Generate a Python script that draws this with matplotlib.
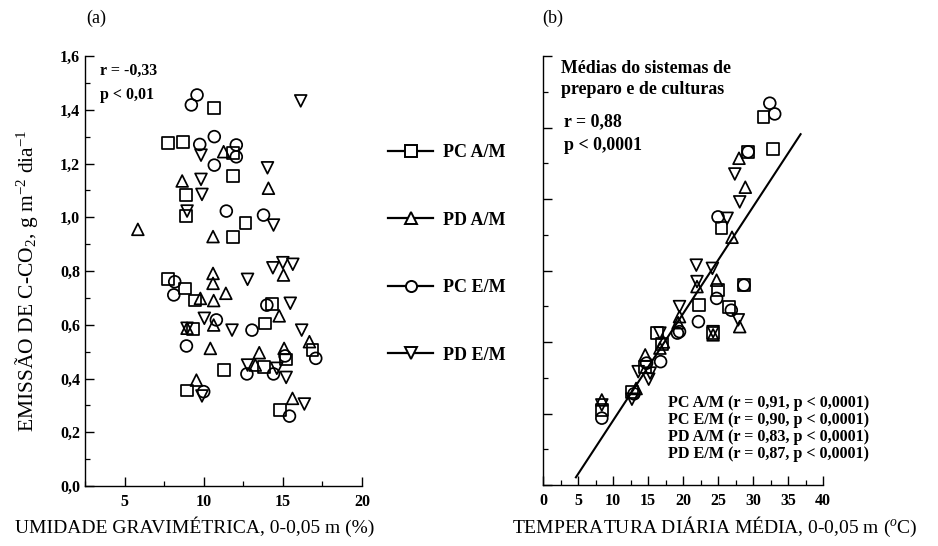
"""
Recreates the two-panel CO2 emission scatter figure:
(a) emission vs soil moisture, (b) mean emission vs soil temperature.
"""

import matplotlib

matplotlib.use("Agg")
import matplotlib.pyplot as plt  # noqa: E402
from matplotlib.lines import Line2D  # noqa: E402
from matplotlib.ticker import MultipleLocator  # noqa: E402

plt.rcParams["font.family"] = ["Liberation Serif", "DejaVu Serif"]
plt.rcParams["mathtext.fontset"] = "custom"
plt.rcParams["mathtext.rm"] = "Liberation Serif"
plt.rcParams["mathtext.it"] = "Liberation Serif:italic"
plt.rcParams["mathtext.bf"] = "Liberation Serif:bold"

SERIES = ["PC A/M", "PD A/M", "PC E/M", "PD E/M"]
MARKERS = {"PC A/M": "s", "PD A/M": "^", "PC E/M": "o", "PD E/M": "v"}

# ---- panel (a): moisture (%) vs emission ----
moist_pc_am = [10.63, 7.75, 8.70, 11.85, 11.85, 8.89, 8.89, 12.64, 11.85, 7.75, 8.84,
               9.43, 14.34, 9.31, 13.88, 15.21, 16.87, 13.82, 11.26, 8.95, 14.83]
emis_pc_am = [1.408, 1.275, 1.279, 1.238, 1.153, 1.083, 1.005, 0.980, 0.928, 0.769, 0.735,
              0.690, 0.677, 0.583, 0.605, 0.471, 0.506, 0.442, 0.432, 0.355, 0.283]

moist_pd_am = [5.84, 11.26, 8.64, 14.09, 10.59, 15.04, 10.59, 10.59, 9.79, 10.63, 11.40,
               10.63, 8.95, 14.77, 10.42, 13.51, 15.08, 16.68, 13.26, 9.54, 15.61]
emis_pd_am = [0.955, 1.244, 1.135, 1.108, 0.928, 0.785, 0.791, 0.754, 0.698, 0.690, 0.717,
              0.599, 0.587, 0.633, 0.512, 0.496, 0.512, 0.537, 0.450, 0.394, 0.326]

moist_pc_em = [9.22, 9.58, 9.75, 10.67, 12.06, 12.06, 10.67, 11.43, 13.78, 8.17, 8.11,
               13.99, 10.80, 13.05, 8.91, 15.14, 17.08, 12.73, 14.41, 10.00, 15.42]
emis_pc_em = [1.418, 1.455, 1.271, 1.300, 1.269, 1.225, 1.194, 1.023, 1.008, 0.760, 0.711,
              0.673, 0.618, 0.580, 0.521, 0.484, 0.475, 0.417, 0.417, 0.351, 0.260]

moist_pd_em = [16.13, 9.83, 14.03, 9.83, 9.89, 8.95, 14.41, 14.37, 15.00, 15.63, 12.77,
               15.47, 10.04, 11.79, 8.95, 16.19, 12.77, 14.62, 15.21, 9.89, 16.36]
emis_pd_em = [1.433, 1.231, 1.184, 1.141, 1.085, 1.023, 0.971, 0.812, 0.831, 0.825, 0.769,
              0.680, 0.624, 0.580, 0.587, 0.580, 0.450, 0.438, 0.404, 0.335, 0.305]

# ---- panel (b): temperature (oC) vs mean emission ----
temp_pc_am = [8.4, 12.7, 14.6, 16.3, 17.0, 22.3, 24.3, 25.0, 25.5, 26.6, 28.7, 29.3, 31.5, 32.9]
mean_pc_am = [0.210, 0.261, 0.330, 0.425, 0.395, 0.504, 0.425, 0.545, 0.718, 0.497, 0.559,
              0.932, 1.030, 0.940]

temp_pd_am = [8.4, 13.3, 14.6, 16.7, 17.2, 19.3, 19.5, 22.0, 24.3, 24.8, 27.0, 28.0, 28.1, 28.9]
mean_pd_am = [0.238, 0.270, 0.364, 0.383, 0.400, 0.454, 0.471, 0.555, 0.420, 0.573, 0.693,
              0.914, 0.443, 0.833]

temp_pc_em = [8.4, 13.0, 14.8, 16.8, 19.2, 19.5, 22.2, 24.8, 25.0, 26.9, 28.7, 29.3, 32.4, 33.1]
mean_pc_em = [0.187, 0.255, 0.341, 0.345, 0.425, 0.429, 0.457, 0.522, 0.750, 0.489, 0.559,
              0.932, 1.068, 1.038]

temp_pd_em = [8.4, 12.7, 13.6, 15.1, 15.3, 16.7, 19.5, 21.9, 22.0, 24.2, 24.3, 26.3, 27.4,
              27.9, 28.1]
mean_pd_em = [0.224, 0.240, 0.317, 0.296, 0.313, 0.425, 0.499, 0.615, 0.569, 0.606, 0.429,
              0.746, 0.870, 0.462, 0.792]

# fitted line of panel (b)
FIT_INTERCEPT = -0.119
FIT_SLOPE = 0.0299
FIT_X = [4.7, 36.8]

yticks_a = [0.0, 0.2, 0.4, 0.6, 0.8, 1.0, 1.2, 1.4, 1.6]
ytick_labels_a = ["0,0", "0,2", "0,4", "0,6", "0,8", "1,0", "1,2", "1,4", "1,6"]
xticks_a = [5, 10, 15, 20]
xticks_b = [0, 5, 10, 15, 20, 25, 30, 35, 40]

panel_a = {
    "PC A/M": (moist_pc_am, emis_pc_am),
    "PD A/M": (moist_pd_am, emis_pd_am),
    "PC E/M": (moist_pc_em, emis_pc_em),
    "PD E/M": (moist_pd_em, emis_pd_em),
}
panel_b = {
    "PC A/M": (temp_pc_am, mean_pc_am),
    "PD A/M": (temp_pd_am, mean_pd_am),
    "PC E/M": (temp_pc_em, mean_pc_em),
    "PD E/M": (temp_pd_em, mean_pd_em),
}


def _style_axis(ax):
    for side in ("top", "right"):
        ax.spines[side].set_visible(False)
    for side in ("left", "bottom"):
        ax.spines[side].set_linewidth(1.0)
    ax.tick_params(which="major", direction="in", length=6.5, width=1.0, labelsize=11.5)
    ax.tick_params(which="minor", direction="in", length=3.5, width=0.9)
    ax.tick_params(axis="x", pad=6)
    for lab in ax.get_xticklabels() + ax.get_yticklabels():
        lab.set_fontweight("bold")


def _scatter(ax, data):
    for name in SERIES:
        xs, ys = data[name]
        ax.scatter(xs, ys, marker=MARKERS[name], s=72, facecolors="none",
                   edgecolors="black", linewidths=1.25, zorder=3)


fig = plt.figure(figsize=(9.38, 5.46), dpi=100)
ax_a = fig.add_axes([0.0906, 0.1099, 0.2953, 0.7875])
ax_b = fig.add_axes([0.5789, 0.1117, 0.2985, 0.7857])

# panel (a)
_scatter(ax_a, panel_a)
ax_a.set_xlim(2.5, 20)
ax_a.set_ylim(0, 1.6)
ax_a.set_xticks(xticks_a)
ax_a.set_xticklabels([str(v) for v in xticks_a])
ax_a.set_yticks(yticks_a)
ax_a.set_yticklabels(ytick_labels_a)
ax_a.xaxis.set_minor_locator(MultipleLocator(2.5))
ax_a.yaxis.set_minor_locator(MultipleLocator(0.1))
_style_axis(ax_a)
ax_a.text(0.054, 0.985, "r = -0,33\np < 0,01", transform=ax_a.transAxes, ha="left",
          va="top", fontsize=11.5, fontweight="bold", linespacing=1.75)

# panel (b)
_scatter(ax_b, panel_b)
ax_b.plot(FIT_X, [FIT_INTERCEPT + FIT_SLOPE * v for v in FIT_X], color="black", lw=1.5,
          zorder=2)
ax_b.set_xlim(0, 40)
ax_b.set_ylim(0, 1.2)
ax_b.set_xticks(xticks_b)
ax_b.set_xticklabels([str(v) for v in xticks_b])
ax_b.set_yticks([0.0, 0.2, 0.4, 0.6, 0.8, 1.0, 1.2])
ax_b.set_yticklabels([])
ax_b.xaxis.set_minor_locator(MultipleLocator(2.5))
ax_b.yaxis.set_minor_locator(MultipleLocator(0.1))
_style_axis(ax_b)
ax_b.text(0.064, 0.99, "Médias do sistemas de\npreparo e de culturas",
          transform=ax_b.transAxes, ha="left", va="top", fontsize=12.9,
          fontweight="bold", linespacing=1.3)
ax_b.text(0.074, 0.866, "r = 0,88\np < 0,0001", transform=ax_b.transAxes, ha="left",
          va="top", fontsize=12.9, fontweight="bold", linespacing=1.5)
ax_b.text(0.446, 0.210,
          "PC A/M (r = 0,91, p < 0,0001)\nPC E/M (r = 0,90, p < 0,0001)\n"
          "PD A/M (r = 0,83, p < 0,0001)\nPD E/M (r = 0,87, p < 0,0001)",
          transform=ax_b.transAxes, ha="left", va="top", fontsize=11.6,
          fontweight="bold", linespacing=1.08)

# axis titles and panel letters
fig.text(27 / 938, 1 - 281 / 546, "EMISSÃO DE C-CO$_2$, g m$^{-2}$ dia$^{-1}$",
         rotation=90, ha="center", va="center", fontsize=15.5)
fig.text(195 / 938, 1 - 527 / 546, "UMIDADE GRAVIMÉTRICA, 0-0,05 m (%)", ha="center",
         va="center", fontsize=14)
fig.text(715 / 938, 1 - 527 / 546, "TEMPERATURA DIÁRIA MÉDIA, 0-0,05 m ($^{o}$C)",
         ha="center", va="center", fontsize=14)
fig.text(96 / 938, 1 - 18 / 546, "(a)", ha="center", va="center", fontsize=13)
fig.text(553 / 938, 1 - 18 / 546, "(b)", ha="center", va="center", fontsize=13)

# legend in the gap between the panels
handles = [Line2D([], [], color="black", lw=1.6, marker=MARKERS[n], markersize=8,
                  markerfacecolor="white", markeredgecolor="black", markeredgewidth=1.4)
           for n in SERIES]
fig.legend(handles, SERIES, loc="upper left", bbox_to_anchor=(388 / 938, 1 - 144 / 546),
           frameon=False, handlelength=2.5, handletextpad=0.55, labelspacing=2.8,
           prop={"family": "Liberation Serif", "weight": "bold", "size": 13},
           borderpad=0, borderaxespad=0)

fig.savefig("out.png", dpi=100)
plt.close(fig)
